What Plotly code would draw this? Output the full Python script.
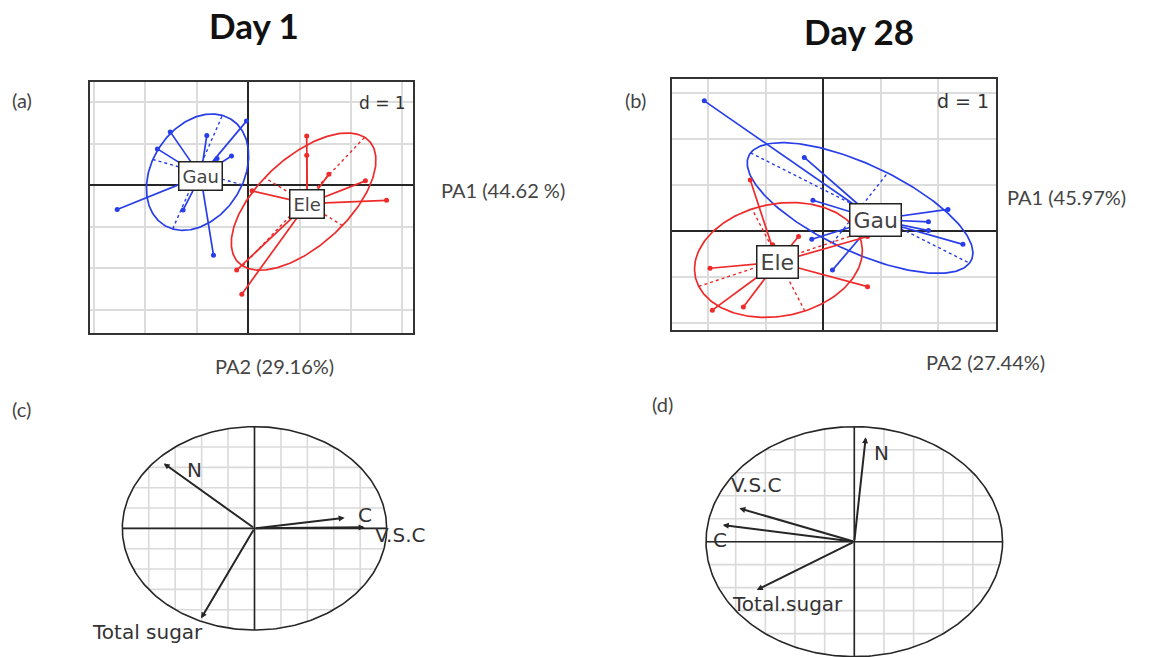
import numpy as np
import plotly.graph_objects as go

W, H = 1166, 657

# ---------------- Day 1 class scores (PA1 / PA2) ----------------
d1_gau_x = [-0.03, -1.51, -0.80, -1.76, -0.32, -0.60, -2.54, -1.26, -0.67]
d1_gau_y = [1.54, 1.28, 1.19, 0.87, 0.70, 0.64, -0.59, -0.60, -1.69]
d1_ele_x = [1.14, 1.14, 1.57, 2.28, 2.69, 1.41, 0.08, -0.22, -0.12]
d1_ele_y = [1.18, 0.72, 0.26, 0.10, -0.37, -0.18, -0.14, -2.05, -2.63]
d1_centers = {"Gau": (-0.92, 0.22), "Ele": (1.15, -0.45)}
# ellipse: centre x, centre y, semi-major, semi-minor, angle (deg)
d1_ellipses = {"Gau": (-0.98, 0.31, 1.45, 0.92, 70.6),
               "Ele": (1.08, -0.40, 1.95, 0.95, 52.6)}

# ---------------- Day 28 class scores ----------------
d28_gau_x = [-2.07, -0.33, -0.18, -0.20, 0.16, 2.17, 1.83, 1.83, 2.43]
d28_gau_y = [2.83, 1.60, 0.67, -0.18, -0.85, 0.47, 0.20, 0.01, -0.29]
d28_ele_x = [-1.27, -0.88, -0.43, -1.97, -1.93, -1.39, 0.77, 0.77]
d28_ele_y = [1.11, -0.30, -0.12, -0.81, -1.72, -1.65, -0.12, -1.21]
d28_centers = {"Gau": (0.91, 0.25), "Ele": (-0.80, -0.68)}
d28_ellipses = {"Gau": (0.64, 0.50, 2.25, 0.90, -32.2),
                "Ele": (-0.78, -0.63, 1.50, 1.20, 22.5)}

# ---------------- variable loadings (correlation circles) ----------------
vars_c = ["N", "C", "V.S.C", "Total sugar"]
load_c_x = [-0.687, 0.682, 0.833, -0.404]
load_c_y = [0.639, 0.104, 0.010, -0.885]
vars_d = ["N", "V.S.C", "C", "Total.sugar"]
load_d_x = [0.077, -0.775, -0.887, -0.658]
load_d_y = [0.908, 0.290, 0.145, -0.420]

BLUE = "rgb(40,62,232)"
RED = "rgb(238,42,42)"
INK = "#262626"
PANEL_FONT = "DejaVu Sans"
OUTER_FONT = "Lato"


def fx(p):
    return p / W


def fy(p):
    return 1 - p / H


fig = go.Figure()
annotations = []


def ellipse_xy(cx, cy, a, b, theta, n=240):
    t = np.linspace(0, 2 * np.pi, n)
    th = np.radians(theta)
    x = cx + a * np.cos(t) * np.cos(th) - b * np.sin(t) * np.sin(th)
    y = cy + a * np.cos(t) * np.sin(th) + b * np.sin(t) * np.cos(th)
    return x, y


def add_class(xa, ya, xs, ys, center, ell, color, label, fsize, pad):
    cx, cy = center
    sx, sy = [], []
    for x, y in zip(xs, ys):
        sx += [cx, x, None]
        sy += [cy, y, None]
    # dotted principal axes of the ellipse
    ecx, ecy, a, b, th = ell
    t = np.radians(th)
    ux, uy = np.cos(t), np.sin(t)
    axx = [ecx - a * ux, ecx + a * ux, None, ecx + b * uy, ecx - b * uy]
    axy = [ecy - a * uy, ecy + a * uy, None, ecy - b * ux, ecy + b * ux]
    fig.add_trace(go.Scatter(x=axx, y=axy, mode="lines", xaxis=xa, yaxis=ya,
                             line=dict(color=color, width=1.4, dash="dot"),
                             hoverinfo="skip", showlegend=False))
    ex, ey = ellipse_xy(*ell)
    fig.add_trace(go.Scatter(x=ex, y=ey, mode="lines", xaxis=xa, yaxis=ya,
                             line=dict(color=color, width=1.7),
                             hoverinfo="skip", showlegend=False))
    fig.add_trace(go.Scatter(x=sx, y=sy, mode="lines", xaxis=xa, yaxis=ya,
                             line=dict(color=color, width=1.7),
                             hoverinfo="skip", showlegend=False))
    fig.add_trace(go.Scatter(x=xs, y=ys, mode="markers", xaxis=xa, yaxis=ya,
                             marker=dict(color=color, size=5),
                             hoverinfo="skip", showlegend=False))
    annotations.append(dict(x=cx, y=cy, xref=xa, yref=ya, text=label,
                            showarrow=False, bgcolor="white",
                            bordercolor="#222", borderwidth=1.5, borderpad=pad,
                            font=dict(family=PANEL_FONT, size=fsize, color="#444")))


add_class("x", "y", d1_gau_x, d1_gau_y, d1_centers["Gau"], d1_ellipses["Gau"], BLUE, "Gau", 18, 3)
add_class("x", "y", d1_ele_x, d1_ele_y, d1_centers["Ele"], d1_ellipses["Ele"], RED, "Ele", 18, 3)
add_class("x2", "y2", d28_gau_x, d28_gau_y, d28_centers["Gau"], d28_ellipses["Gau"], BLUE, "Gau", 22, 3)
add_class("x2", "y2", d28_ele_x, d28_ele_y, d28_centers["Ele"], d28_ellipses["Ele"], RED, "Ele", 22, 3)

annotations.append(dict(x=0.985, y=0.965, xref="x domain", yref="y domain",
                        text="d = 1", showarrow=False, xanchor="right", yanchor="top",
                        font=dict(family=PANEL_FONT, size=17, color="#333")))
annotations.append(dict(x=0.985, y=0.965, xref="x2 domain", yref="y2 domain",
                        text="d = 1", showarrow=False, xanchor="right", yanchor="top",
                        font=dict(family=PANEL_FONT, size=19, color="#333")))


# ---------------- correlation circles ----------------
def add_circle(xa, ya, names, lx, ly, fsize, shifts):
    gx, gy = [], []
    for k in range(-4, 5):
        v = 0.2 * k
        h = float(np.sqrt(max(0.0, 1 - v * v)))
        gx += [v, v, None, -h, h, None]
        gy += [-h, h, None, v, v, None]
    fig.add_trace(go.Scatter(x=gx, y=gy, mode="lines", xaxis=xa, yaxis=ya,
                             line=dict(color="#dadada", width=1.6),
                             hoverinfo="skip", showlegend=False))
    fig.add_trace(go.Scatter(x=[-1, 1, None, 0, 0], y=[0, 0, None, -1, 1],
                             mode="lines", xaxis=xa, yaxis=ya,
                             line=dict(color=INK, width=1.6),
                             hoverinfo="skip", showlegend=False))
    cx, cy = ellipse_xy(0, 0, 1, 1, 0, 300)
    fig.add_trace(go.Scatter(x=cx, y=cy, mode="lines", xaxis=xa, yaxis=ya,
                             line=dict(color=INK, width=1.6),
                             hoverinfo="skip", showlegend=False))
    for name, x, y, (dx, dy) in zip(names, lx, ly, shifts):
        annotations.append(dict(x=x, y=y, ax=0, ay=0, xref=xa, yref=ya,
                                axref=xa, ayref=ya, text="", showarrow=True,
                                arrowhead=2, arrowsize=0.6, arrowwidth=2,
                                arrowcolor=INK))
        annotations.append(dict(x=x, y=y, xref=xa, yref=ya, text=name,
                                showarrow=False, xshift=dx, yshift=dy,
                                font=dict(family=PANEL_FONT, size=fsize, color="#333")))


add_circle("x3", "y3", vars_c, load_c_x, load_c_y, 20,
           [(31, -7), (20, 3), (35, -8), (-54, -14)])
add_circle("x4", "y4", vars_d, load_d_x, load_d_y, 20,
           [(16, -16), (17, 23), (-3, -15), (31, -14)])

# ---------------- outer labels ----------------
outer = [
    ("<b>Day 1</b>", 254, 25, 35, "#111"),
    ("<b>Day 28</b>", 859, 31, 35, "#111"),
    ("(a)", 22, 100, 20, "#444"),
    ("(b)", 635, 100, 20, "#444"),
    ("(c)", 21, 409, 20, "#444"),
    ("(d)", 662, 404, 20, "#444"),
    ("PA1 (44.62 %)", 503, 190, 20, "#444"),
    ("PA2 (29.16%)", 274, 366, 20, "#444"),
    ("PA1 (45.97%)", 1066, 197, 20, "#444"),
    ("PA2 (27.44%)", 985, 362, 20, "#444"),
]
for text, x, y, size, col in outer:
    annotations.append(dict(x=fx(x), y=fy(y), xref="paper", yref="paper",
                            text=text, showarrow=False, xanchor="center",
                            yanchor="middle",
                            font=dict(family=OUTER_FONT, size=size, color=col)))

frame = dict(showticklabels=False, ticks="", showgrid=True, gridcolor="#dcdcdc",
             gridwidth=1.5, dtick=1, tick0=0, zeroline=True, zerolinecolor="#262626",
             zerolinewidth=2, showline=True, linecolor="#333", linewidth=2,
             mirror=True, fixedrange=True)
hidden = dict(visible=False, fixedrange=True)

fig.update_layout(
    width=W, height=H, margin=dict(l=0, r=0, t=0, b=0),
    paper_bgcolor="white", plot_bgcolor="white", showlegend=False,
    xaxis=dict(domain=[fx(90), fx(413)], range=[-3.068, 3.204], anchor="y", **frame),
    yaxis=dict(domain=[fy(333), fy(82)], range=[-3.566, 2.482], anchor="x", **frame),
    xaxis2=dict(domain=[fx(671.7), fx(995.7)], range=[-2.637, 3.0], anchor="y2", **frame),
    yaxis2=dict(domain=[fy(330), fy(79.3)], range=[-2.152, 3.298], anchor="x2", **frame),
    xaxis3=dict(domain=[fx(109.1), fx(399.9)], range=[-1.1, 1.1], anchor="y3", **hidden),
    yaxis3=dict(domain=[fy(640.2), fy(416.5)], range=[-1.1, 1.1], anchor="x3", **hidden),
    xaxis4=dict(domain=[fx(691.2), fx(1017.4)], range=[-1.1, 1.1], anchor="y4", **hidden),
    yaxis4=dict(domain=[0, fy(415.2)], range=[-1.003, 1.1], anchor="x4", **hidden),
    annotations=annotations,
)

fig.write_html("out.html")
